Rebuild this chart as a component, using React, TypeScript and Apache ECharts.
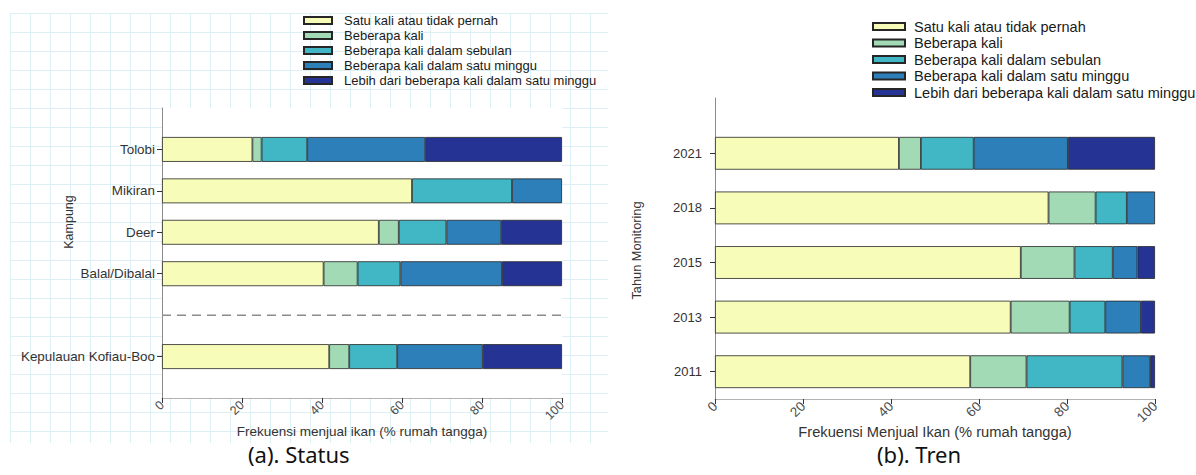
import React, { useEffect, useRef } from "react";
import * as echarts from "echarts";

// ---- data ----
const legendNames = [
  "Satu kali atau tidak pernah",
  "Beberapa kali",
  "Beberapa kali dalam sebulan",
  "Beberapa kali dalam satu minggu",
  "Lebih dari beberapa kali dalam satu minggu",
];
const palette = ["#f7fcb9", "#a1dab4", "#41b6c4", "#2c7fb8", "#253494"];

// (a) Status – categories from bottom to top; blank entries are spacing slots
const kampungLabels = ["", "Kepulauan Kofiau-Boo", " ", "Balal/Dibalal", "Deer", "Mikiran", "Tolobi", "  "];
const statusSatuKali = [null, 41.8, null, 40.4, 54.2, 62.5, 22.6, null];
const statusBeberapa = [null, 5.0, null, 8.5, 5.0, 0, 2.3, null];
const statusSebulan = [null, 12.0, null, 10.7, 11.9, 25.0, 11.4, null];
const statusMinggu = [null, 21.4, null, 25.4, 13.7, 12.5, 29.5, null];
const statusLebih = [null, 19.8, null, 15.0, 15.2, 0, 34.2, null];
const separatorLabel = " ";

// (b) Tren
const tahunLabels = ["2011", "2013", "2015", "2018", "2021"];
const trenSatuKali = [58.0, 67.2, 69.5, 75.8, 41.8];
const trenBeberapa = [12.8, 13.4, 12.2, 10.7, 5.0];
const trenSebulan = [21.8, 8.1, 8.7, 7.1, 12.0];
const trenMinggu = [6.3, 8.1, 5.6, 6.4, 21.4];
const trenLebih = [1.1, 3.2, 4.0, 0, 19.8];

const xMin = 0;
const xMax = 100;
const xInterval = 20;

const FONT = "'Liberation Sans', Arial, sans-serif";
const CAPTION_FONT = "'Noto Sans', 'Open Sans', sans-serif";

export default function App() {
  const ref = useRef<HTMLDivElement>(null);

  useEffect(() => {
    if (!ref.current) return;
    const chart = echarts.init(ref.current, undefined, { renderer: "svg" });

    const clean = (arr: (number | null)[]) => arr.map((v) => (v == null || v === 0 ? "-" : v));
    const statusData = [statusSatuKali, statusBeberapa, statusSebulan, statusMinggu, statusLebih];
    const trenData = [trenSatuKali, trenBeberapa, trenSebulan, trenMinggu, trenLebih];

    const barStyle = (i: number) => ({
      color: palette[i],
      borderColor: "#262626",
      borderWidth: 0.8,
    });

    const statusSeries = statusData.map((arr, i) => ({
      type: "bar",
      name: legendNames[i],
      xAxisIndex: 0,
      yAxisIndex: 0,
      stack: "status",
      barWidth: "60%",
      itemStyle: barStyle(i),
      data: clean(arr),
    }));
    const trenSeries = trenData.map((arr, i) => ({
      type: "bar",
      name: legendNames[i],
      xAxisIndex: 1,
      yAxisIndex: 1,
      stack: "tren",
      barWidth: "60%",
      itemStyle: barStyle(i),
      data: clean(arr),
    }));

    const sepIndex = kampungLabels.indexOf(separatorLabel);

    const xAxisBase = (gridIndex: number, name: string, fs: number, nfs: number, gap: number) => ({
      gridIndex,
      type: "value",
      min: xMin,
      max: xMax,
      interval: xInterval,
      splitLine: { show: false },
      axisLine: { show: true, lineStyle: { color: "#b3b3b3", width: 1 } },
      axisTick: { show: true, length: 5, lineStyle: { color: "#333" } },
      axisLabel: { rotate: 45, fontSize: fs, color: "#4d4d4d", fontFamily: FONT, margin: 5 },
      name,
      nameLocation: "middle",
      nameGap: gap,
      nameMoveOverlap: false,
      nameTextStyle: { fontSize: nfs, color: "#333", fontFamily: FONT },
    });

    const option: any = {
      animation: false,
      backgroundColor: "transparent",
      grid: [
        { left: 162, top: 108, width: 400, height: 290, show: true, backgroundColor: "#ffffff", borderWidth: 0 },
        { left: 715, top: 126, width: 440, height: 273, show: false },
        // upper continuation of panel (b)'s vertical axis line
        { left: 715, top: 98, width: 440, height: 28, show: false },
      ],
      legend: [
        {
          data: legendNames,
          orient: "vertical",
          left: 303,
          top: 14,
          padding: 0,
          itemWidth: 28,
          itemHeight: 7,
          itemGap: 2,
          icon: "rect",
          selectedMode: false,
          textStyle: { fontSize: 13, color: "#1a1a1a", fontFamily: FONT, lineHeight: 13, padding: [0, 0, 0, 7] },
        },
        {
          data: legendNames,
          orient: "vertical",
          left: 872,
          top: 19,
          padding: 0,
          itemWidth: 32,
          itemHeight: 7,
          itemGap: 1.5,
          icon: "rect",
          selectedMode: false,
          textStyle: { fontSize: 14.5, color: "#1a1a1a", fontFamily: FONT, lineHeight: 14, padding: [0, 0, 0, 4] },
        },
      ],
      xAxis: [
        xAxisBase(0, "Frekuensi menjual ikan (% rumah tangga)", 12.5, 13.5, 26),
        xAxisBase(1, "Frekuensi Menjual Ikan (% rumah tangga)", 13.5, 14.7, 25),
        { gridIndex: 2, type: "value", min: xMin, max: xMax, show: false },
      ],
      yAxis: [
        {
          gridIndex: 0,
          type: "category",
          data: kampungLabels,
          boundaryGap: false,
          axisLine: { show: true, lineStyle: { color: "#8c8c8c" } },
          axisTick: {
            show: true,
            length: 5,
            interval: (_i: number, v: string) => String(v).trim() !== "",
            lineStyle: { color: "#333" },
          },
          axisLabel: { interval: 0, fontSize: 13.4, color: "#333", fontFamily: FONT, margin: 7 },
          name: "Kampung",
          nameLocation: "middle",
          nameGap: 87,
          nameMoveOverlap: false,
          nameTextStyle: { fontSize: 12.5, color: "#333", fontFamily: FONT, padding: [0, 0, 0, 62] },
        },
        {
          gridIndex: 1,
          type: "category",
          data: tahunLabels,
          boundaryGap: true,
          axisLine: { show: true, lineStyle: { color: "#8c8c8c" } },
          axisTick: { show: true, length: 5, alignWithLabel: true, lineStyle: { color: "#333" } },
          axisLabel: { interval: 0, fontSize: 13, color: "#333", fontFamily: FONT, margin: 13 },
          name: "Tahun Monitoring",
          nameLocation: "middle",
          nameGap: 72,
          nameMoveOverlap: false,
          nameTextStyle: { fontSize: 12.8, color: "#333", fontFamily: FONT, padding: [0, 0, 0, 24] },
        },
        {
          gridIndex: 2,
          type: "value",
          min: 0,
          max: 1,
          axisLine: { show: true, lineStyle: { color: "#8c8c8c" } },
          axisTick: { show: false },
          axisLabel: { show: false },
          splitLine: { show: false },
        },
      ],
      series: [
        ...statusSeries,
        ...trenSeries,
        {
          type: "line",
          name: "separator",
          xAxisIndex: 0,
          yAxisIndex: 0,
          data: [
            [xMin, sepIndex],
            [xMax, sepIndex],
          ],
          symbol: "none",
          silent: true,
          lineStyle: { color: "#8c8c8c", width: 1.5, type: [9, 6] },
        },
      ],
      graphic: [
        {
          type: "text",
          left: 248,
          top: 443,
          style: { text: "(a). Status", fontSize: 22, fontFamily: CAPTION_FONT, fill: "#111" },
        },
        {
          type: "text",
          left: 877,
          top: 443,
          style: { text: "(b). Tren", fontSize: 22, fontFamily: CAPTION_FONT, fill: "#111" },
        },
      ],
    };

    chart.setOption(option);
    return () => chart.dispose();
  }, []);

  return (
    <div style={{ position: "fixed", left: 0, top: 0, width: 1196, height: 475, background: "#ffffff", overflow: "hidden" }}>
      <div
        style={{
          position: "absolute",
          left: 10,
          top: 13,
          width: 598,
          height: 430,
          backgroundImage:
            "linear-gradient(to right, #dcf0f5 1px, transparent 1px), linear-gradient(to bottom, #dcf0f5 1px, transparent 1px)",
          backgroundSize: "20px 19px",
        }}
      />
      <div ref={ref} style={{ position: "absolute", left: 0, top: 0, width: 1196, height: 475 }} />
    </div>
  );
}
